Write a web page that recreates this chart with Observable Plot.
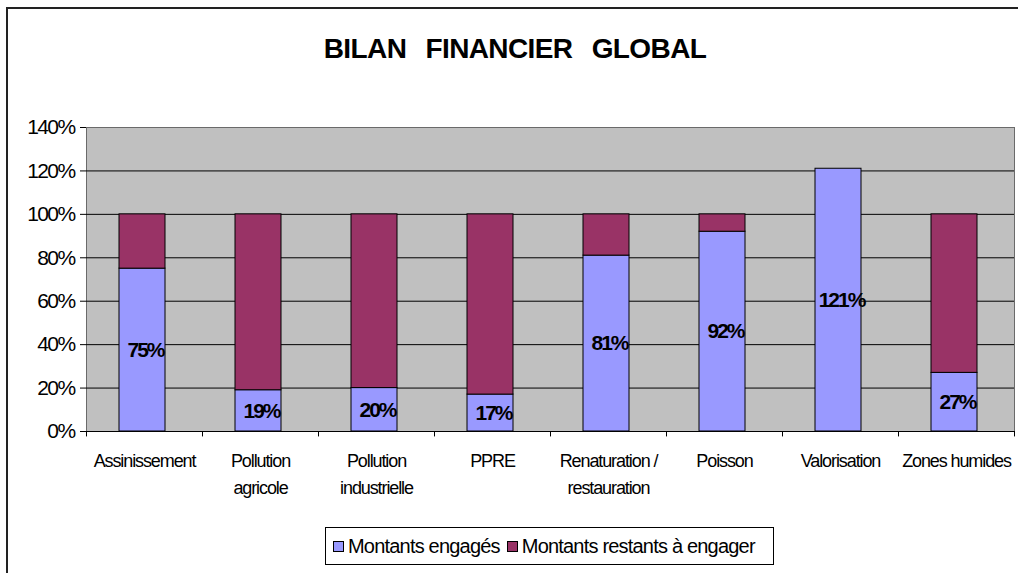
<!DOCTYPE html>
<html>
<head>
<meta charset="utf-8">
<script src="https://cdn.jsdelivr.net/npm/d3@7"></script>
<script src="https://cdn.jsdelivr.net/npm/@observablehq/plot@0.6"></script>
<style>
  html, body { margin: 0; padding: 0; background: #fff; overflow: hidden; }
  body { width: 1018px; height: 573px; position: relative; font-family: "Liberation Sans", Arial, sans-serif; }
  #frame { position: absolute; left: 6px; top: 7px; width: 1030px; height: 590px; border-left: 2px solid #222; border-top: 2px solid #222; }
  #title { position: absolute; left: 0; width: 1030px; top: 33px; text-align: center; font-weight: bold; font-size: 28px; letter-spacing: -0.6px; word-spacing: 12px; color: #000; }
  #chart { position: absolute; left: 0; top: 100px; }
  #legend { position: absolute; left: 325px; top: 527px; width: 449px; height: 38px; border: 1px solid #000; box-sizing: border-box; display: flex; align-items: center; padding-left: 7px; font-size: 20px; letter-spacing: -0.8px; color: #000; background: #fff; }
  #legend .sw { display: inline-block; width: 9px; height: 9px; border: 1px solid #000; margin-right: 4px; }
  #legend .item { display: inline-flex; align-items: center; margin-right: 7px; }
  g[aria-label="y-axis tick label"] text { letter-spacing: -1.6px; }
  g[aria-label="x-axis tick label"] text { letter-spacing: -1.1px; }
  g[aria-label="text"] text { letter-spacing: -2px; }
</style>
</head>
<body>
<div id="frame"></div>
<div id="title">BILAN FINANCIER GLOBAL</div>
<div id="chart"></div>
<div id="legend"></div>
<script>
const categories = ["Assinissement", "Pollution\nagricole", "Pollution\nindustrielle", "PPRE", "Renaturation /\nrestauration", "Poisson", "Valorisation", "Zones humides"];
const engages = [0.75, 0.19, 0.20, 0.17, 0.81, 0.92, 1.21, 0.27];
const restants = [0.25, 0.81, 0.80, 0.83, 0.19, 0.08, 0.00, 0.73];
const seriesNames = ["Montants engagés", "Montants restants à engager"];
const yTicks = [0, 0.2, 0.4, 0.6, 0.8, 1.0, 1.2, 1.4];

const colors = ["#9999FF", "#993366"];

const rows = [];
categories.forEach((c, i) => {
  rows.push({cat: c, series: seriesNames[0], value: engages[i]});
  rows.push({cat: c, series: seriesNames[1], value: restants[i]});
});
const labelRows = categories.map((c, i) => ({cat: c, value: engages[i]}));
const pct = d3.format(".0%");

const plot = Plot.plot({
  width: 1018,
  height: 410,
  marginTop: 27,
  marginBottom: 79,
  marginLeft: 86,
  marginRight: 4,
  style: {fontFamily: "'Liberation Sans', Arial, sans-serif", color: "#000", background: "transparent", overflow: "visible"},
  x: {domain: categories, padding: 0, label: null},
  y: {domain: [0, 1.4], label: null},
  color: {domain: seriesNames, range: colors},
  marks: [
    Plot.frame({fill: "#C0C0C0", stroke: "#6a6a6a"}),
    Plot.gridY(yTicks.slice(1, -1), {stroke: "#000", strokeOpacity: 1}),
    Plot.barY(rows, {x: "cat", y: "value", fill: "series", stroke: "#000", strokeWidth: 1, insetLeft: 33, insetRight: 37}),
    Plot.text(labelRows, {x: "cat", y: d => d.value / 2, text: d => pct(d.value), fontWeight: "bold", fontSize: 21, fill: "#000", dx: 1}),
    Plot.ruleY([0], {stroke: "#000", strokeWidth: 1.2}),
    Plot.ruleX(categories, {x: d => d, y1: 0, y2: -0.025, dx: -58, stroke: "#000"}),
    Plot.ruleX(categories.slice(-1), {x: d => d, y1: 0, y2: -0.025, dx: 58, stroke: "#000"}),
    Plot.axisY(yTicks, {tickFormat: pct, tickSize: 6, tickPadding: 6, fontSize: 21, stroke: "#000"}),
    Plot.axisX({tickSize: 0, tickPadding: 16, fontSize: 18, lineHeight: 1.5})
  ]
});
document.getElementById("chart").appendChild(plot);

const legend = document.getElementById("legend");
seriesNames.forEach((s, i) => {
  const item = document.createElement("span");
  item.className = "item";
  const sw = document.createElement("span");
  sw.className = "sw";
  sw.style.background = colors[i];
  item.appendChild(sw);
  item.appendChild(document.createTextNode(s));
  legend.appendChild(item);
});
</script>
</body>
</html>
